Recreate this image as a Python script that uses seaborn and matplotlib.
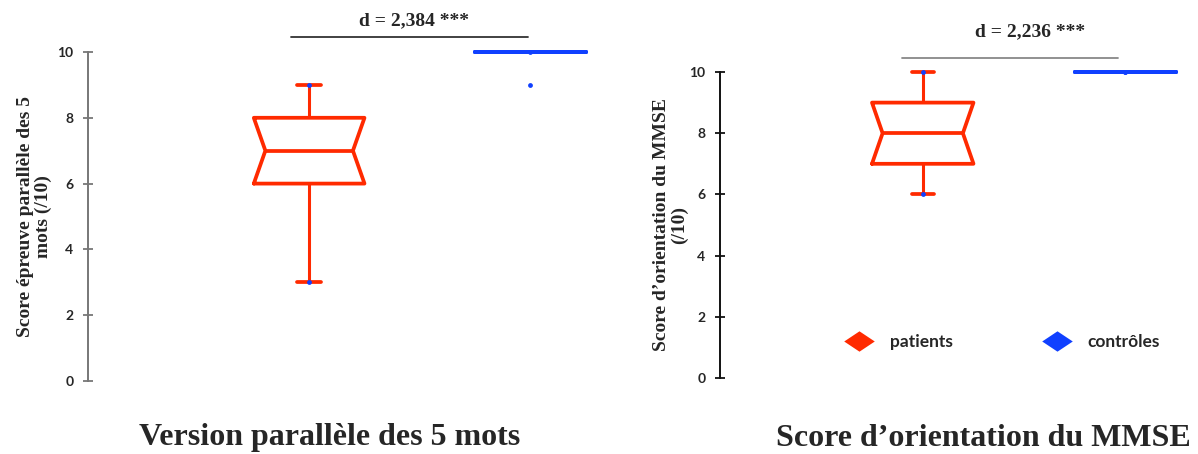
import numpy as np
import pandas as pd
import matplotlib.pyplot as plt
from matplotlib.lines import Line2D
import seaborn as sns

# scores (boxes: whiskers / quartiles / median)
groups = ["patients", "contrôles"]
mots_patients = [3, 5, 6, 6, 7, 7, 8, 8, 8, 9]
mots_controles = [9, 10, 10, 10, 10, 10, 10, 10, 10, 10]
mmse_patients = [6, 6, 7, 7, 8, 8, 9, 9, 9, 10]
mmse_controles = [10, 10, 10, 10, 10, 10, 10, 10, 10, 10]

panel_titles = ["Version parallèle des 5 mots", "Score d’orientation du MMSE"]
y_labels = ["Score épreuve parallèle des 5\nmots (/10)", "Score d’orientation du MMSE\n(/10)"]
effect_labels = ["d = 2,384 ***", "d = 2,236 ***"]
yticks = [0, 2, 4, 6, 8, 10]

red = "#ff2a00"
blue = "#1040ff"
palette = {"patients": red, "contrôles": blue}

sns.set_style("white")
plt.rcParams["font.family"] = ["Liberation Serif", "DejaVu Serif"]


def make_df(pat, ctrl):
    return pd.DataFrame({
        "groupe": ["patients"] * len(pat) + ["contrôles"] * len(ctrl),
        "score": pat + ctrl,
    })


fig = plt.figure(figsize=(11.98, 4.54), dpi=100)
ax1 = fig.add_axes([0.0735, 0.1608, 0.4337, 0.7247])
ax2 = fig.add_axes([0.6010, 0.1674, 0.3977, 0.6740])

# (axes, data, bar colour, bar x-range, text position, spine colour, labelpad)
panels = [
    (ax1, make_df(mots_patients, mots_controles), "#333333", (-0.08, 0.99),
     (0.475, 10.94), "#777777", 4),
    (ax2, make_df(mmse_patients, mmse_controles), "#888888", (-0.10, 0.965),
     (0.527, 11.31), "#111111", 1),
]

for i, (ax, df, bar_col, bar_x, txt_xy, spine_col, lpad) in enumerate(panels):
    sns.boxplot(data=df, x="groupe", y="score", hue="groupe", order=groups,
                palette=palette, saturation=1, fill=False, width=0.5,
                linewidth=2.7, notch=True, fliersize=0, capwidths=0.11,
                whiskerprops={"linewidth": 2.2},
                legend=False, ax=ax)

    # widen the notch a bit (matplotlib uses half the box width)
    # and don't clip the lines sitting on the top of the axis
    for ln in ax.lines:
        xd = np.asarray(ln.get_xdata(), dtype=float)
        for pos in (0, 1):
            for sgn in (-1, 1):
                m = np.isclose(xd, pos + sgn * 0.125)
                xd[m] = pos + sgn * 0.198
        ln.set_xdata(xd)
        ln.set_clip_on(False)

    # min / max markers
    ext = df.groupby("groupe")["score"].agg(["min", "max"]).reindex(groups)
    for j, g in enumerate(groups):
        ax.scatter([j, j], [ext.loc[g, "min"], ext.loc[g, "max"]],
                   s=12, color=blue, zorder=5, linewidths=0, clip_on=False)

    # effect size bar
    ax.plot(bar_x, [10.46, 10.46], color=bar_col, lw=1.3, clip_on=False)
    ax.text(txt_xy[0], txt_xy[1], effect_labels[i], ha="center", va="center",
            fontsize=14, fontweight="bold", clip_on=False)

    ax.set_xlim(-1.0, 1.35)
    ax.set_ylim(0, 10)
    ax.set_yticks(yticks)
    ax.set_yticklabels([str(t) for t in yticks], family="Lato",
                       fontweight="bold", fontsize=10)
    ax.set_xticks([])
    ax.set_xlabel("")
    ax.set_ylabel(y_labels[i], fontsize=14, fontweight="bold", labelpad=lpad,
                  linespacing=1.05)
    for s in ["top", "right", "bottom"]:
        ax.spines[s].set_visible(False)
    ax.spines["left"].set_color(spine_col)
    ax.spines["left"].set_linewidth(1.4)
    ax.tick_params(axis="y", left=True, direction="inout", length=7, width=1.3,
                   color=spine_col, pad=7)
    ax.set_facecolor("none")

fig.text(330 / 1198, 1 - 438 / 454, panel_titles[0], ha="center", va="center",
         fontsize=23, fontweight="bold")
fig.text(983 / 1198, 1 - 438 / 454, panel_titles[1], ha="center", va="center",
         fontsize=23, fontweight="bold")

diamond = [(-1.5, 0), (0, 1), (1.5, 0), (0, -1), (-1.5, 0)]
handles = [Line2D([], [], ls="", marker=diamond, markersize=22,
                  color=palette[g], markeredgewidth=0) for g in groups]
fig.legend(handles, groups, loc="center left", bbox_to_anchor=(0.7025, 0.2467),
           ncol=2, frameon=False, borderpad=0, borderaxespad=0,
           handlelength=2, handletextpad=0.78, columnspacing=5.0,
           prop={"family": "Lato", "weight": "bold", "size": 12.5})

fig.savefig("out.png", dpi=100)
